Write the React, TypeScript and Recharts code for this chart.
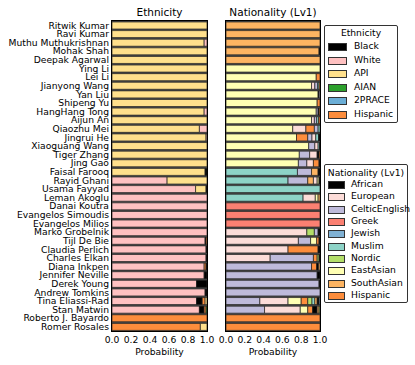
import React from 'react';
import { BarChart, Bar, XAxis, YAxis, CartesianGrid, Cell } from 'recharts';

const names = [
  'Ritwik Kumar', 'Ravi Kumar', 'Muthu Muthukrishnan', 'Mohak Shah', 'Deepak Agarwal',
  'Ying Li', 'Lei Li', 'Jianyong Wang', 'Yan Liu', 'Shipeng Yu',
  'HangHang Tong', 'Aijun An', 'Qiaozhu Mei', 'Jingrui He', 'Xiaoguang Wang',
  'Tiger Zhang', 'Jing Gao', 'Faisal Farooq', 'Rayid Ghani', 'Usama Fayyad',
  'Leman Akoglu', 'Danai Koutra', 'Evangelos Simoudis', 'Evangelos Milios', 'Marko Grobelnik',
  'Tijl De Bie', 'Claudia Perlich', 'Charles Elkan', 'Diana Inkpen', 'Jennifer Neville',
  'Derek Young', 'Andrew Tomkins', 'Tina Eliassi-Rad', 'Stan Matwin', 'Roberto J. Bayardo',
  'Romer Rosales',
];

const xTicks = [0, 0.2, 0.4, 0.6, 0.8, 1.0];

// Ethnicity probabilities, one value per name
const ethnicityLabels = ['Black', 'White', 'API', 'AIAN', '2PRACE', 'Hispanic'];
const ethnicityColors = ['#000000', '#ffc1c1', '#ffe08c', '#2ca02c', '#6baed6', '#fd8d3c'];
const ethBlack = [0, 0, 0, 0, 0, 0, 0, 0, 0, 0, 0, 0, 0, 0, 0, 0, 0, 0.02, 0, 0.01, 0, 0, 0, 0, 0, 0.01, 0.01, 0.01, 0.01, 0.03, 0.11, 0.02, 0.06, 0.05, 0, 0];
const ethWhite = [0, 0, 0.03, 0, 0, 0, 0, 0, 0, 0, 0.03, 0, 0.08, 0.01, 0, 0, 0, 0, 0.58, 0.88, 1, 1, 1, 1, 1, 0.98, 0.99, 0.99, 0.97, 0.97, 0.89, 0.98, 0.89, 0.92, 0, 0];
const ethApi = [1, 1, 0.97, 1, 1, 1, 1, 1, 1, 1, 0.97, 1, 0.92, 0.99, 1, 1, 1, 0.98, 0.42, 0.11, 0, 0, 0, 0, 0, 0, 0, 0, 0, 0, 0, 0, 0.02, 0, 0, 0.07];
const ethAian = [0, 0, 0, 0, 0, 0, 0, 0, 0, 0, 0, 0, 0, 0, 0, 0, 0, 0, 0, 0, 0, 0, 0, 0, 0, 0, 0, 0, 0, 0, 0, 0, 0, 0.01, 0, 0];
const eth2prace = [0, 0, 0, 0, 0, 0, 0, 0, 0, 0, 0, 0, 0, 0, 0, 0, 0, 0, 0, 0, 0, 0, 0, 0, 0, 0, 0, 0, 0, 0, 0, 0, 0, 0, 0, 0];
const ethHispanic = [0, 0, 0, 0, 0, 0, 0, 0, 0, 0, 0, 0, 0, 0, 0, 0, 0, 0, 0, 0, 0, 0, 0, 0, 0, 0.01, 0, 0, 0.02, 0, 0, 0, 0.03, 0.02, 1, 0.93];

// Nationality (Lv1) probabilities
const nationalityLabels = ['African', 'European', 'CelticEnglish', 'Greek', 'Jewish', 'Muslim', 'Nordic', 'EastAsian', 'SouthAsian', 'Hispanic'];
const nationalityColors = ['#000000', '#fcdcd8', '#bebada', '#fb8072', '#80b1d3', '#8dd3c7', '#b3de69', '#ffffb3', '#fdb462', '#fd8d3c'];
const natAfrican = [0, 0, 0, 0.01, 0, 0, 0, 0, 0.01, 0, 0.01, 0, 0, 0.015, 0.005, 0.02, 0.01, 0.02, 0.01, 0, 0, 0, 0, 0, 0.02, 0.01, 0.02, 0.01, 0.02, 0.03, 0.01, 0, 0.02, 0.048, 0, 0];
const natEuropean = [0, 0, 0, 0, 0, 0, 0, 0.035, 0, 0, 0, 0.03, 0.14, 0.04, 0.035, 0.08, 0.07, 0, 0.04, 0, 0.13, 0, 0, 0, 0.86, 0.77, 0.66, 0.47, 0, 0, 0, 0, 0.30, 0.38, 0, 0];
const natCeltic = [0, 0, 0, 0, 0, 0, 0, 0.03, 0.01, 0, 0.02, 0.025, 0.04, 0.045, 0.065, 0.11, 0.09, 0.15, 0.21, 0, 0, 0, 0, 0, 0.04, 0.13, 0, 0.46, 0.91, 0.97, 0.99, 1, 0.36, 0.41, 0, 0];
const natGreek = [0, 0, 0, 0, 0, 0, 0, 0, 0, 0, 0, 0, 0, 0, 0, 0, 0, 0, 0, 0, 0, 1, 1, 1, 0, 0, 0, 0, 0, 0, 0, 0, 0, 0, 0, 0];
const natJewish = [0, 0, 0, 0, 0, 0, 0, 0, 0, 0, 0, 0, 0, 0, 0, 0, 0, 0, 0, 0, 0, 0, 0, 0, 0, 0, 0, 0, 0, 0, 0, 0, 0.01, 0, 0, 0];
const natMuslim = [0, 0, 0, 0, 0, 0, 0, 0.015, 0, 0, 0, 0.02, 0.02, 0.03, 0.015, 0, 0, 0.76, 0.66, 1, 0.82, 0, 0, 0, 0, 0, 0, 0, 0, 0, 0, 0, 0.03, 0, 0, 0];
const natNordic = [0, 0, 0, 0, 0, 0, 0, 0, 0, 0, 0, 0, 0, 0, 0, 0, 0, 0, 0, 0, 0, 0, 0, 0, 0.08, 0, 0, 0.02, 0, 0, 0, 0, 0.045, 0.01, 0, 0];
const natEastAsian = [0, 0, 0, 0, 0, 1, 0.96, 0.91, 0.98, 0.97, 0.96, 0.91, 0.71, 0.75, 0.88, 0.78, 0.77, 0, 0.02, 0, 0.03, 0, 0, 0, 0, 0.065, 0, 0, 0, 0, 0, 0, 0.14, 0.08, 0, 0];
const natSouthAsian = [1, 1, 1, 0.99, 1, 0, 0, 0, 0, 0, 0, 0, 0, 0, 0, 0, 0, 0.07, 0.06, 0, 0.02, 0, 0, 0, 0, 0, 0, 0, 0.015, 0, 0, 0, 0.025, 0.02, 0, 0];
const natHispanic = [0, 0, 0, 0, 0, 0, 0.04, 0.01, 0, 0.03, 0.01, 0.015, 0.09, 0.12, 0, 0.01, 0.06, 0, 0, 0, 0, 0, 0, 0, 0, 0.025, 0.32, 0.04, 0.055, 0, 0, 0, 0.07, 0.052, 1, 1];

const ethnicitySeries = [ethBlack, ethWhite, ethApi, ethAian, eth2prace, ethHispanic];
const nationalitySeries = [natAfrican, natEuropean, natCeltic, natGreek, natJewish, natMuslim, natNordic, natEastAsian, natSouthAsian, natHispanic];

// each row is drawn largest share first, so segments are stacked by rank
const rankRows = (series: number[][]) =>
  names.map((name, i) => {
    const parts = series
      .map((s, k) => ({ k, v: s[i] }))
      .filter((p) => p.v > 0)
      .sort((a, b) => b.v - a.v);
    const row: any = { name };
    series.forEach((_, r) => {
      row['r' + r] = parts[r] ? parts[r].v : 0;
      row['c' + r] = parts[r] ? parts[r].k : -1;
    });
    return row;
  });

const FONT = 'DejaVu Sans';

const NameTick = ({ x, y, payload }: any) => (
  <text x={x} y={y} dy="0.36em" textAnchor="end" fontSize={9.2} fill="#000">
    {payload.value}
  </text>
);

const Panel = ({ data, colors, ranks, left, width, marginLeft, marginRight, showNames }: any) => (
  <div style={{ position: 'absolute', left, top: 0 }}>
    <BarChart
      layout="vertical"
      width={width}
      height={365}
      data={data}
      margin={{ top: 21, right: marginRight, bottom: 0, left: marginLeft }}
      barCategoryGap={1}
    >
      <CartesianGrid horizontal={false} vertical={false} fill="#4a4a4a" fillOpacity={1} />
      <XAxis
        type="number"
        domain={[0, 1]}
        ticks={xTicks}
        interval={0}
        tickFormatter={(v: number) => v.toFixed(1)}
        height={34}
        tickLine={false}
        axisLine={false}
        tickSize={0}
        tickMargin={5}
        tick={{ fontSize: 9.2, fill: '#000' }}
        label={{ value: 'Probability', position: 'insideBottom', offset: 10, fill: '#000', fontSize: 9.2 }}
      />
      <YAxis
        type="category"
        dataKey="name"
        hide={!showNames}
        width={showNames ? 112 : 0}
        interval={0}
        tickLine={false}
        axisLine={false}
        tickSize={0}
        tickMargin={3}
        tick={<NameTick />}
      />
      {Array.from({ length: ranks }).map((_, r) => (
        <Bar key={r} dataKey={'r' + r} stackId="a" stroke="#222" strokeWidth={0.7} isAnimationActive={false}>
          {data.map((d: any, i: number) => (
            <Cell key={i} fill={d['c' + r] >= 0 ? colors[d['c' + r]] : 'none'} />
          ))}
        </Bar>
      ))}
    </BarChart>
  </div>
);

const Legend = ({ title, labels, colors, left, top, width, height, titleY, firstY, step, swatchW, textX }: any) => (
  <div
    style={{
      position: 'absolute', left, top, width, height, boxSizing: 'border-box',
      border: '1px solid #333', borderRadius: 2, background: '#fff', fontSize: 9.2, color: '#000',
    }}
  >
    <div style={{ position: 'absolute', left: 0, width: width - 2, top: titleY - top - 6, lineHeight: '12px', textAlign: 'center' }}>
      {title}
    </div>
    {labels.map((l: string, i: number) => (
      <React.Fragment key={l}>
        <div
          style={{
            position: 'absolute', left: 3, top: firstY + i * step - top - 4, width: swatchW, height: 6,
            background: colors[i], border: '1px solid #333',
          }}
        />
        <div style={{ position: 'absolute', left: textX - left - 1, top: firstY + i * step - top - 7, lineHeight: '12px', whiteSpace: 'nowrap' }}>
          {l}
        </div>
      </React.Fragment>
    ))}
  </div>
);

const frame = (left: number) => ({
  position: 'absolute' as const, left, top: 20, width: left === 111 ? 97 : 96, height: 312,
  boxSizing: 'border-box' as const, border: '1px solid #000', pointerEvents: 'none' as const,
});

export default function App() {
  const ethData = rankRows(ethnicitySeries);
  const natData = rankRows(nationalitySeries);
  return (
    <div style={{ position: 'absolute', left: 0, top: 0, width: 415, height: 365, background: '#fff', fontFamily: FONT, overflow: 'hidden' }}>
      <Panel data={ethData} colors={ethnicityColors} ranks={ethnicitySeries.length} left={0} width={218} marginLeft={0} marginRight={11} showNames />
      <Panel data={natData} colors={nationalityColors} ranks={nationalitySeries.length} left={210} width={124} marginLeft={16} marginRight={14} showNames={false} />
      <div style={frame(111)} />
      <div style={frame(225)} />
      <div style={{ position: 'absolute', left: 112, width: 95, top: 6, lineHeight: '12px', fontSize: 10.5, textAlign: 'center' }}>Ethnicity</div>
      <div style={{ position: 'absolute', left: 206, width: 134, top: 6, lineHeight: '12px', fontSize: 10.5, textAlign: 'center' }}>Nationality (Lv1)</div>
      <Legend title="Ethnicity" labels={ethnicityLabels} colors={ethnicityColors} left={324} top={25} width={74} height={98} titleY={32} firstY={46} step={13.6} swatchW={17} textX={354} />
      <Legend title="Nationality (Lv1)" labels={nationalityLabels} colors={nationalityColors} left={324} top={164} width={84} height={139} titleY={172} firstY={184} step={12.35} swatchW={15} textX={351} />
    </div>
  );
}
